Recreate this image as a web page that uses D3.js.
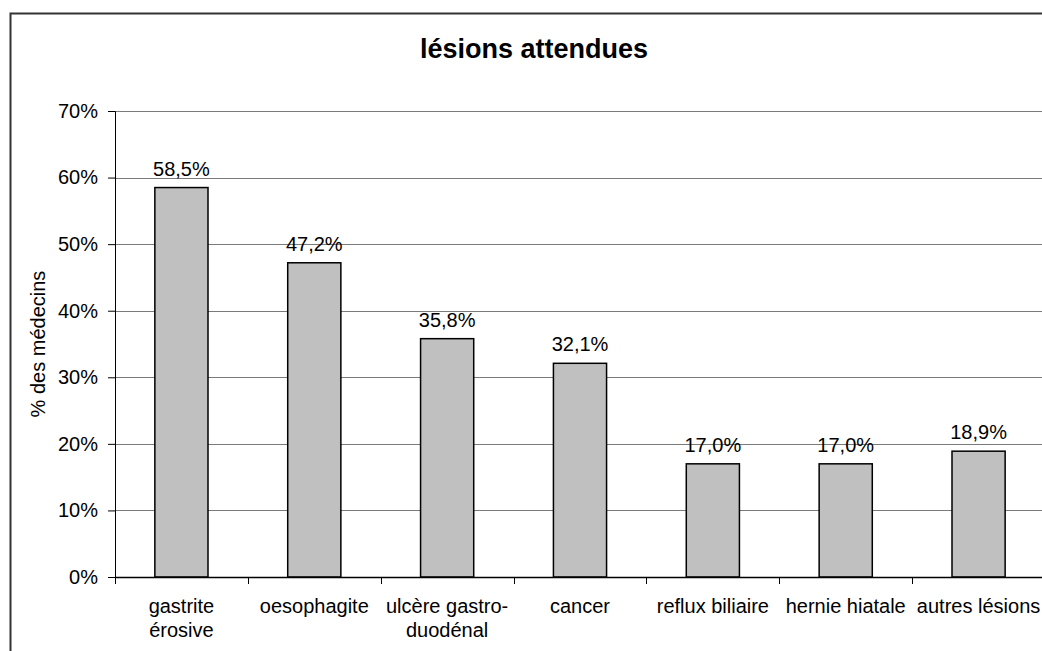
<!DOCTYPE html>
<html>
<head>
<meta charset="utf-8">
<script src="https://cdn.jsdelivr.net/npm/d3@7"></script>
<style>
  body { margin: 0; background: #fff; }
  svg { display: block; font-family: "Liberation Sans", Arial, sans-serif; }
</style>
</head>
<body>
<script>
var categories = [
  ["gastrite", "érosive"],
  ["oesophagite"],
  ["ulcère gastro-", "duodénal"],
  ["cancer"],
  ["reflux biliaire"],
  ["hernie hiatale"],
  ["autres lésions"]
];
var values = [58.5, 47.2, 35.8, 32.1, 17.0, 17.0, 18.9];
var yTicks = [0, 10, 20, 30, 40, 50, 60, 70];

var width = 1042, height = 651;
var plot = { left: 115, top: 111, right: 1045, bottom: 577 };

var svg = d3.select("body").append("svg")
  .attr("width", width)
  .attr("height", height);

// outer chart frame (runs off the right and bottom edges)
svg.append("rect")
  .attr("x", 10.5).attr("y", 13.5)
  .attr("width", 1100).attr("height", 700)
  .style("fill", "#fff")
  .style("stroke", "#333")
  .style("stroke-width", 2);

var x = d3.scaleBand()
  .domain(d3.range(categories.length))
  .range([plot.left, plot.right])
  .paddingInner(0.6)
  .paddingOuter(0.3);

var bandStep = (plot.right - plot.left) / categories.length;

var y = d3.scaleLinear()
  .domain([0, 70])
  .range([plot.bottom, plot.top]);

// gridlines
svg.append("g")
  .selectAll("line")
  .data(yTicks.filter(function(d) { return d > 0; }))
  .enter().append("line")
  .attr("x1", plot.left).attr("x2", plot.right)
  .attr("y1", function(d) { return Math.round(y(d)) + 0.5; })
  .attr("y2", function(d) { return Math.round(y(d)) + 0.5; })
  .style("stroke", "#7a7a7a")
  .style("stroke-width", 1);

// bars
svg.append("g")
  .selectAll("rect")
  .data(values)
  .enter().append("rect")
  .attr("x", function(d, i) { return x(i); })
  .attr("width", x.bandwidth())
  .attr("y", function(d) { return y(d); })
  .attr("height", function(d) { return plot.bottom - y(d); })
  .style("fill", "#c0c0c0")
  .style("stroke", "#000")
  .style("stroke-width", 1.5);

// data labels
svg.append("g")
  .selectAll("text")
  .data(values)
  .enter().append("text")
  .attr("x", function(d, i) { return x(i) + x.bandwidth() / 2; })
  .attr("y", function(d) { return y(d) - 12; })
  .attr("text-anchor", "middle")
  .style("font-size", "20px")
  .text(function(d) { return d.toFixed(1).replace(".", ",") + "%"; });

// y axis
var yAxis = d3.axisLeft(y)
  .tickValues(yTicks)
  .tickSize(7)
  .tickPadding(10)
  .tickFormat(function(d) { return d + "%"; });

var gy = svg.append("g")
  .attr("transform", "translate(" + plot.left + ",0)")
  .call(yAxis);
gy.select(".domain").style("stroke", "#000");
gy.selectAll(".tick line").style("stroke", "#000");
gy.selectAll("text")
  .style("font-size", "20px")
  .style("font-family", "Liberation Sans, Arial, sans-serif")
  .style("fill", "#000");

// x axis line and ticks at band boundaries
var gx = svg.append("g");
gx.append("line")
  .attr("x1", plot.left).attr("x2", plot.right)
  .attr("y1", plot.bottom + 0.5).attr("y2", plot.bottom + 0.5)
  .style("stroke", "#000").style("stroke-width", 1.5);
gx.selectAll(".xt")
  .data(d3.range(categories.length + 1))
  .enter().append("line")
  .attr("class", "xt")
  .attr("x1", function(i) { return Math.round(plot.left + i * bandStep) + 0.5; })
  .attr("x2", function(i) { return Math.round(plot.left + i * bandStep) + 0.5; })
  .attr("y1", plot.bottom).attr("y2", plot.bottom + 7)
  .style("stroke", "#000");

// category labels
var labels = gx.selectAll(".xl")
  .data(categories)
  .enter().append("text")
  .attr("class", "xl")
  .attr("text-anchor", "middle")
  .style("font-size", "20px");
labels.selectAll("tspan")
  .data(function(d, i) { return d.map(function(t) { return { t: t, i: i }; }); })
  .enter().append("tspan")
  .attr("x", function(d) { return x(d.i) + x.bandwidth() / 2; })
  .attr("y", function(d, j) { return plot.bottom + 36 + j * 24; })
  .text(function(d) { return d.t; });

// title
svg.append("text")
  .attr("x", 534)
  .attr("y", 58)
  .attr("text-anchor", "middle")
  .style("font-size", "27px")
  .style("font-weight", "bold")
  .text("lésions attendues");

// y axis title
svg.append("text")
  .attr("transform", "translate(45," + ((plot.top + plot.bottom) / 2) + ") rotate(-90)")
  .attr("text-anchor", "middle")
  .style("font-size", "20px")
  .text("% des médecins");
</script>
</body>
</html>
